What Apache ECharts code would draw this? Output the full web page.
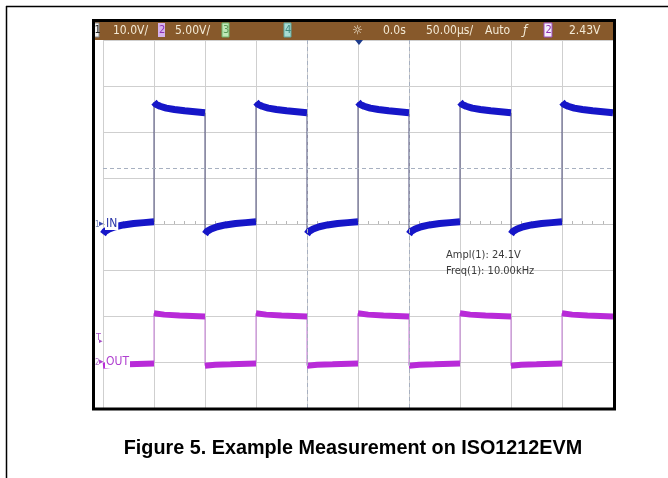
<!DOCTYPE html>
<html>
<head>
<meta charset="utf-8">
<script src="https://cdn.jsdelivr.net/npm/echarts@6/dist/echarts.min.js"></script>
<style>
html, body { margin: 0; padding: 0; background: #fff; }
#chart { width: 668px; height: 478px; }
</style>
</head>
<body>
<div id="chart"></div>
<script>
// 50 us/div, 10 divisions across the screen
var edgesUs = [-250, -200, -150, -100, -50, 0, 50, 100, 150, 200, 250]; // switching instants, first half low
// CH1 (IN, 10 V/div): [us after edge, volts]
var inHigh = [[0, 26.5], [2, 26.0], [6, 25.6], [12, 25.2], [20, 24.9], [30, 24.6], [40, 24.4], [50, 24.2]];
var inLow = [[0, -2.2], [2, -1.6], [6, -1.1], [12, -0.6], [20, -0.2], [30, 0.1], [40, 0.3], [50, 0.5]];
// CH2 (OUT, 5 V/div)
var outHigh = [[0, 5.3], [10, 5.15], [25, 5.05], [50, 4.95]];
var outLow = [[0, -0.4], [10, -0.3], [25, -0.25], [50, -0.15]];
var thresholdV = 12.05; // 50% level used by the measurement
var cursorUs = [-50, 50];

function buildWave(high, low, gaps) {
  var out = [];
  for (var i = 0; i < edgesUs.length - 1; i++) {
    var shape = i % 2 === 0 ? low : high;
    for (var j = 0; j < shape.length; j++) {
      out.push([edgesUs[i] + shape[j][0], shape[j][1]]);
    }
    if (gaps) out.push([edgesUs[i + 1], '-']);
  }
  return out;
}

var chart = echarts.init(document.getElementById('chart'));
var scopeFont = "'Liberation Sans Narrow', 'DejaVu Sans Condensed', sans-serif";
var hdr = '#f3ead6';

function txt(x, y, s, color, size, extra) {
  var o = {
    type: 'text', x: x, y: y, z: 100,
    style: { text: s, fill: color, font: (size || 12) + 'px ' + scopeFont, verticalAlign: 'middle' }
  };
  if (extra) for (var k in extra) o.style[k] = extra[k];
  return o;
}
function box(x, y, w, h, fill, stroke) {
  return { type: 'rect', z: 99, shape: { x: x, y: y, width: w, height: h },
    style: { fill: fill, stroke: stroke || null, lineWidth: 1 } };
}

var option = {
  animation: false,
  backgroundColor: '#fff',
  grid: { left: 103, top: 40, width: 510, height: 368 },
  xAxis: {
    type: 'value', min: -250, max: 250, interval: 50,
    axisLabel: { show: false },
    axisLine: { show: true, onZero: true, onZeroAxisIndex: 0, lineStyle: { color: '#c4c4c4', width: 1 } },
    axisTick: { show: true, inside: true, length: 3, lineStyle: { color: '#b8b8b8' } },
    minorTick: { show: true, splitNumber: 5, length: 3, lineStyle: { color: '#b8b8b8' } },
    splitLine: { show: true, lineStyle: { color: '#cfcfcf', width: 1 } }
  },
  yAxis: [
    {
      type: 'value', min: -40, max: 40, interval: 10,
      axisLabel: { show: false }, axisLine: { show: false }, axisTick: { show: false },
      splitLine: { show: true, lineStyle: { color: '#cfcfcf', width: 1 } }
    },
    {
      type: 'value', min: -5, max: 35, interval: 5,
      axisLabel: { show: false }, axisLine: { show: false }, axisTick: { show: false },
      splitLine: { show: false }
    }
  ],
  series: [
    {
      name: 'CH1 edges', type: 'line', yAxisIndex: 0, symbol: 'none', z: 3,
      data: buildWave(inHigh, inLow, false),
      lineStyle: { color: '#4a4a78', width: 1 },
      markLine: {
        silent: true, symbol: 'none', label: { show: false },
        lineStyle: { color: '#a7b0c0', type: [4, 3], width: 1 },
        data: [{ xAxis: cursorUs[0] }, { xAxis: cursorUs[1] }, { yAxis: thresholdV }]
      }
    },
    {
      name: 'IN', type: 'line', yAxisIndex: 0, symbol: 'none', z: 4,
      data: buildWave(inHigh, inLow, true),
      lineStyle: { color: '#1616c8', width: 7, cap: 'butt' }
    },
    {
      name: 'OUT edges', type: 'line', yAxisIndex: 1, symbol: 'none', z: 3,
      data: buildWave(outHigh, outLow, false),
      lineStyle: { color: '#c67ad8', width: 1 }
    },
    {
      name: 'OUT', type: 'line', yAxisIndex: 1, symbol: 'none', z: 4,
      data: buildWave(outHigh, outLow, true),
      lineStyle: { color: '#b82ad8', width: 6, cap: 'butt' }
    }
  ],
  graphic: [
    // page frame
    { type: 'line', z: 100, shape: { x1: 6, y1: 6.5, x2: 668, y2: 6.5 }, style: { stroke: '#000', lineWidth: 1.5 } },
    { type: 'line', z: 100, shape: { x1: 6.5, y1: 6, x2: 6.5, y2: 478 }, style: { stroke: '#000', lineWidth: 1.5 } },
    // header bar
    box(95, 21, 518, 19, '#87592b'),
    box(94, 23, 5, 14, '#f2f2f2', '#888'),
    txt(94.5, 30.5, '1', '#222', 11),
    txt(113, 30.5, '10.0V/', hdr, 12),
    box(158, 23, 7, 14, '#d6b2ec'),
    txt(159, 30.5, '2', '#8e2fb2', 11),
    txt(175, 30.5, '5.00V/', hdr, 12),
    box(222, 23, 7, 14, '#bfe8b8', '#6fb46a'),
    txt(223, 30.5, '3', '#5a9a55', 11),
    box(284, 23, 7, 14, '#a8dcd4', '#5fa89f'),
    txt(285, 30.5, '4', '#3f8a80', 11),
    txt(352, 30.5, '☼', hdr, 12, { font: '12px DejaVu Sans' }),
    txt(383, 30.5, '0.0s', hdr, 12),
    txt(426, 30.5, '50.00µs/', hdr, 12),
    txt(485, 30.5, 'Auto', hdr, 12),
    txt(523, 30.5, 'ƒ', hdr, 12, { font: 'italic 12px DejaVu Sans' }),
    box(544, 23, 8, 14, '#f4eefa', '#9b4cc0'),
    txt(545.5, 30.5, '2', '#8e2fb2', 11),
    txt(569, 30.5, '2.43V', hdr, 12),
    // trigger position marker
    { type: 'polygon', z: 100, shape: { points: [[355, 40], [363, 40], [359, 45]] }, style: { fill: '#1c3a8a' } },
    // channel labels
    txt(95, 225, '1', '#7080b0', 8),
    txt(99, 224, '▸', '#3a48b0', 9, { font: '9px DejaVu Sans' }),
    txt(105, 224, 'IN', '#2a36a8', 12, { backgroundColor: '#fff', padding: [0, 1, 0, 1] }),
    txt(96, 338, 'T', '#a44cc4', 9),
    txt(99, 341, '▸', '#a44cc4', 7, { font: '7px DejaVu Sans' }),
    txt(95, 363, '2', '#b070c8', 8),
    txt(99, 362, '▸', '#b040d0', 9, { font: '9px DejaVu Sans' }),
    txt(105, 362, 'OUT', '#b040d0', 12, { backgroundColor: '#fff', padding: [0, 1, 0, 1] }),
    // measurements
    txt(446, 255, 'Ampl(1): 24.1V', '#3a3a3a', 11),
    txt(446, 271, 'Freq(1): 10.00kHz', '#3a3a3a', 11),
    // scope bezel
    { type: 'rect', z: 101, shape: { x: 93.5, y: 20.5, width: 521, height: 388.5 },
      style: { fill: null, stroke: '#000', lineWidth: 3 } },
    // caption
    { type: 'text', z: 100, x: 353, y: 449,
      style: { text: 'Figure 5. Example Measurement on ISO1212EVM', fill: '#000',
        font: 'bold 19.8px "Liberation Sans", Arial, sans-serif', align: 'center', verticalAlign: 'middle' } }
  ]
};

chart.setOption(option);
</script>
</body>
</html>
